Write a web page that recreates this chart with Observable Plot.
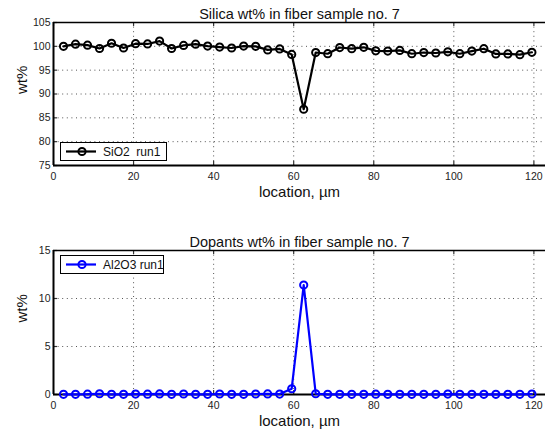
<!DOCTYPE html>
<html>
<head>
<meta charset="utf-8">
<script src="https://cdn.jsdelivr.net/npm/d3@7"></script>
<script src="https://cdn.jsdelivr.net/npm/@observablehq/plot@0.6"></script>
<style>
  html, body { margin: 0; padding: 0; background: white; }
  #wrap { position: relative; width: 545px; height: 434px; font-family: "Liberation Sans", Arial, sans-serif; }
  .legend { position: absolute; background: white; border: 1px solid #000; box-sizing: border-box; font-size: 12px; white-space: pre; }
  .legend svg { position: absolute; left: 0; top: 0; }
  .legend span { position: absolute; left: 42px; top: 2px; color: #111; }
</style>
</head>
<body>
<div id="wrap"></div>
<script>
// ---- data ----
const locations = [2.5, 5.5, 8.5, 11.5, 14.5, 17.5, 20.5, 23.5, 26.5, 29.5,
  32.5, 35.5, 38.5, 41.5, 44.5, 47.5, 50.5, 53.5, 56.5, 59.5,
  62.5, 65.5, 68.5, 71.5, 74.5, 77.5, 80.5, 83.5, 86.5, 89.5,
  92.5, 95.5, 98.5, 101.5, 104.5, 107.5, 110.5, 113.5, 116.5, 119.5];
const sio2 = [100.0, 100.45, 100.25, 99.55, 100.65, 99.65, 100.55, 100.5, 101.1, 99.55,
  100.2, 100.45, 100.05, 99.85, 99.65, 100.05, 100.0, 99.25, 99.45, 98.3,
  86.8, 98.7, 98.45, 99.75, 99.5, 99.8, 99.05, 99.0, 99.15, 98.45,
  98.7, 98.6, 98.85, 98.45, 99.0, 99.5, 98.4, 98.4, 98.25, 98.75];
const al2o3 = [0.02, 0.02, 0.03, 0.08, 0.02, 0.02, 0.04, 0.03, 0.06, 0.02,
  0.05, 0.02, 0.02, 0.05, 0.02, 0.02, 0.05, 0.06, 0.04, 0.6,
  11.4, 0.08, 0.02, 0.02, 0.02, 0.02, 0.03, 0.02, 0.02, 0.02,
  0.02, 0.02, 0.04, 0.02, 0.02, 0.02, 0.02, 0.02, 0.02, 0.05];
const xTicks = [0, 20, 40, 60, 80, 100, 120];
const yTicksTop = [75, 80, 85, 90, 95, 100, 105];
const yTicksBottom = [0, 5, 10, 15];
const titleTop = "Silica wt% in fiber sample no. 7";
const titleBottom = "Dopants wt% in fiber sample no. 7";
const xLabel = "location, µm";
const yLabel = "wt%";
const legendTop = "SiO2  run1";
const legendBottom = "Al2O3 run1";

const xDomain = [0, 122.9];
const font = "'Liberation Sans', Arial, sans-serif";

function panel({values, color, yDomain, yTicks, title, marginTop, marginBottom}) {
  const data = locations.map((x, i) => ({x, y: values[i]}));
  const [y0, y1] = yDomain;
  const tickLenY = (y1 - y0) / 144 * 4;
  const tickLenX = (xDomain[1] - xDomain[0]) / 492 * 4;
  return Plot.plot({
    width: 545,
    height: 217,
    marginLeft: 53,
    marginRight: 0,
    marginTop,
    marginBottom,
    style: {fontFamily: font, fontSize: "10.5px", color: "#111", background: "white", overflow: "visible"},
    x: {domain: xDomain},
    y: {domain: yDomain},
    marks: [
      Plot.ruleX(xTicks.filter(d => d > 0), {stroke: "#555", strokeWidth: 1, strokeDasharray: "1,3.6"}),
      Plot.ruleY(yTicks.filter(d => d > y0 && d < y1), {stroke: "#555", strokeWidth: 1, strokeDasharray: "1,3.6"}),
      // inward ticks
      Plot.ruleX(xTicks, {x: d => d, y1: y1, y2: y1 - tickLenY, stroke: "#333", strokeWidth: 1.2}),
      Plot.ruleX(xTicks, {x: d => d, y1: y0, y2: y0 + tickLenY, stroke: "#333", strokeWidth: 1.2}),
      Plot.ruleY(yTicks, {y: d => d, x1: 0, x2: tickLenX, stroke: "#333", strokeWidth: 1.2}),
      // frame
      Plot.ruleY([y1], {stroke: "#000", strokeWidth: 1.5}),
      Plot.ruleY([y0], {stroke: "#000", strokeWidth: 2}),
      Plot.ruleX([0], {stroke: "#000", strokeWidth: 2}),
      Plot.axisX({ticks: xTicks, tickSize: 0, tickPadding: 7, label: null, fill: "#222"}),
      Plot.axisY({ticks: yTicks, tickSize: 0, tickPadding: 3, label: null, fill: "#222"}),
      Plot.line(data, {x: "x", y: "y", stroke: color, strokeWidth: 2.2}),
      Plot.dot(data, {x: "x", y: "y", r: 3.6, stroke: color, strokeWidth: 2, fill: "none"}),
      Plot.text([title], {text: d => d, frameAnchor: "top", dy: -14, fontSize: 14.5, fill: "#111"}),
      Plot.text([xLabel], {text: d => d, frameAnchor: "bottom", dy: 31, fontSize: 15, fill: "#111"}),
      Plot.text([yLabel], {text: d => d, frameAnchor: "left", dx: -31, rotate: -90, fontSize: 15, fill: "#111"})
    ]
  });
}

const wrap = document.getElementById("wrap");
const chartTop = panel({values: sio2, color: "#000", yDomain: [75, 105], yTicks: yTicksTop, title: titleTop, marginTop: 22, marginBottom: 52});
const chartBottom = panel({values: al2o3, color: "#0000ff", yDomain: [0, 15], yTicks: yTicksBottom, title: titleBottom, marginTop: 33, marginBottom: 40});
chartTop.style.display = "block";
chartBottom.style.display = "block";
wrap.appendChild(chartTop);
wrap.appendChild(chartBottom);

function legend(text, color, left, topPx, width) {
  const div = document.createElement("div");
  div.className = "legend";
  div.style.left = left + "px";
  div.style.top = topPx + "px";
  div.style.width = width + "px";
  div.style.height = "19px";
  div.innerHTML = `<svg width="40" height="17"><line x1="5" x2="35" y1="8.5" y2="8.5" stroke="${color}" stroke-width="2.2"/><circle cx="21" cy="8.5" r="3.6" fill="none" stroke="${color}" stroke-width="2"/></svg><span></span>`;
  div.querySelector("span").textContent = text;
  wrap.appendChild(div);
}
legend(legendTop, "#000", 60, 142, 107);
legend(legendBottom, "#0000ff", 60, 255, 104);
</script>
</body>
</html>
